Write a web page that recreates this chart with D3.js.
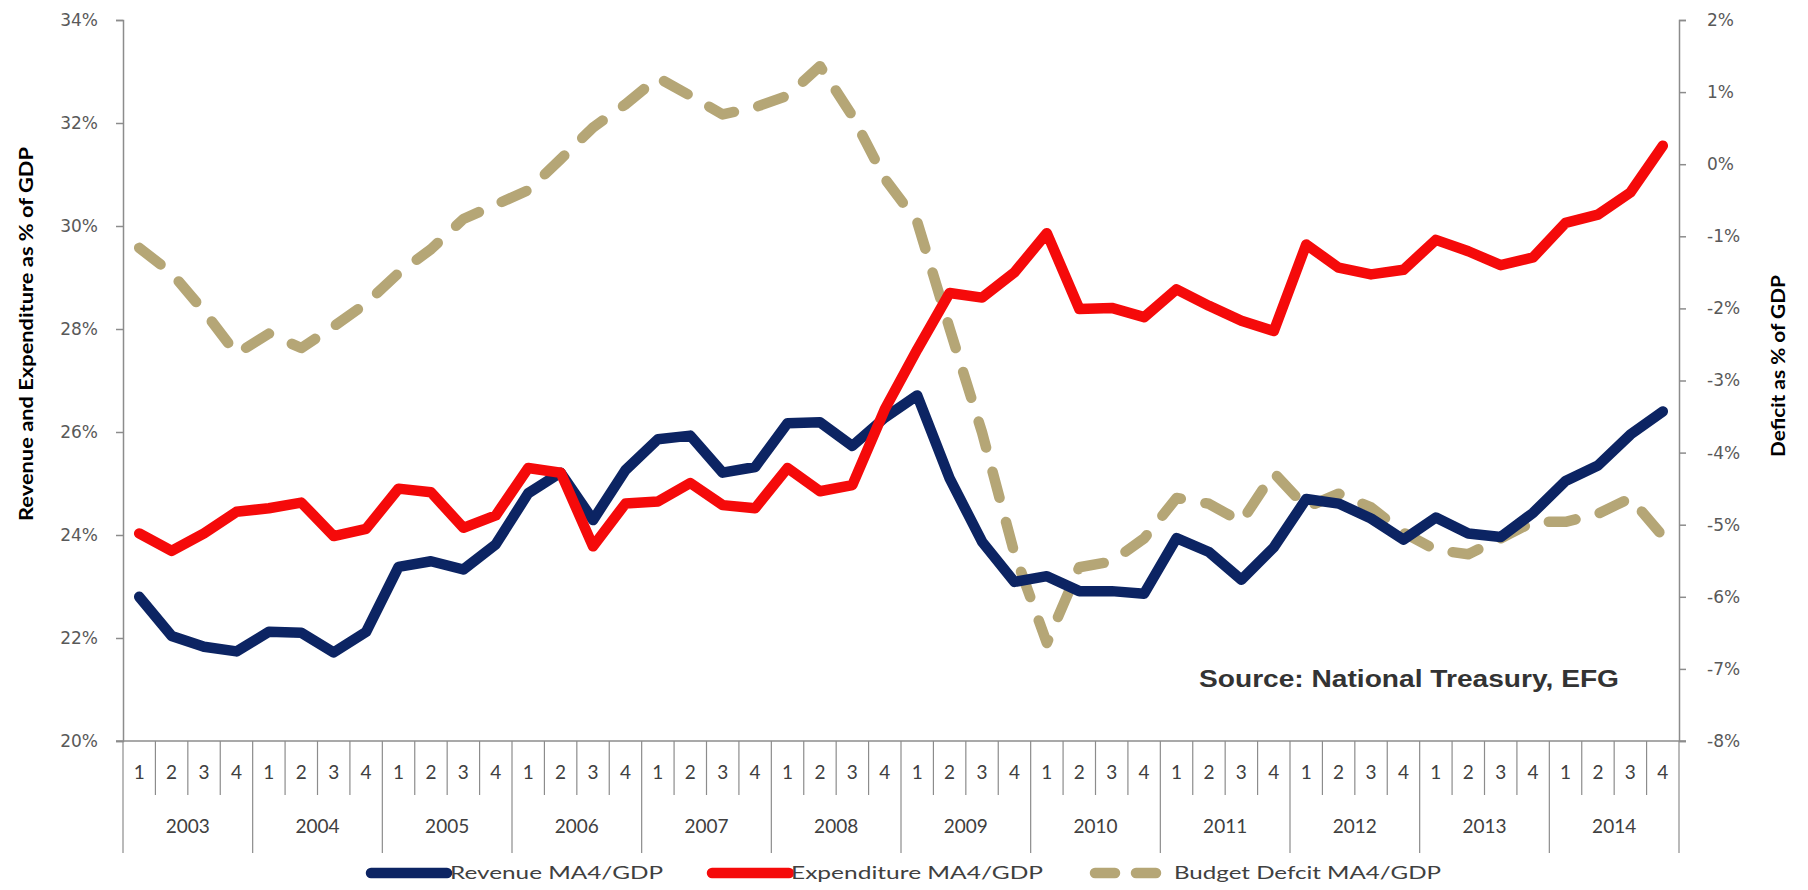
<!DOCTYPE html>
<html><head><meta charset="utf-8">
<script src="https://cdn.jsdelivr.net/npm/d3@7/dist/d3.min.js"></script>
<style>body{margin:0;background:#fff}svg{display:block}</style>
</head><body><svg id="c" width="1808" height="890"></svg>
<script>
const years = ["2003","2004","2005","2006","2007","2008","2009","2010","2011","2012","2013","2014"];
const quarters = ["1","2","3","4"];
const leftTicks = [20,22,24,26,28,30,32,34];
const rightTicks = [-8,-7,-6,-5,-4,-3,-2,-1,0,1,2];
const seriesNames = ["Revenue MA4/GDP","Expenditure MA4/GDP","Budget Defcit MA4/GDP"];
const leftTitle = "Revenue and Expenditure as % of GDP";
const rightTitle = "Deficit as % of GDP";
const sourceNote = "Source: National Treasury, EFG";

const revenue = [22.80,22.04,21.83,21.74, 22.12,22.10,21.72,22.12, 23.38,23.49,23.33,23.82,
  24.81,25.21,24.29,25.26, 25.86,25.93,25.21,25.32, 26.17,26.19,25.73,26.28,
  26.71,25.10,23.87,23.09, 23.20,22.91,22.91,22.86, 23.94,23.67,23.13,23.76,
  24.70,24.61,24.32,23.91, 24.34,24.03,23.96,24.43, 25.05,25.35,25.95,26.40];
const expenditure = [24.03,23.69,24.03,24.45, 24.52,24.63,23.98,24.12, 24.90,24.83,24.14,24.38,
  25.30,25.21,23.78,24.61, 24.65,25.01,24.58,24.52, 25.30,24.85,24.97,26.44,
  27.60,28.70,28.61,29.10, 29.86,28.39,28.41,28.23, 28.77,28.45,28.16,27.96,
  29.64,29.19,29.06,29.15, 29.73,29.51,29.24,29.39, 30.06,30.22,30.65,31.56];
const deficit = [-1.16,-1.51,-2.04,-2.63, -2.35,-2.55,-2.25,-1.93, -1.51,-1.18,-0.76,-0.56,
  -0.36,0.07,0.51,0.83, 1.20,0.95,0.69,0.79, 0.95,1.36,0.67,-0.20,
  -0.80,-2.28,-3.72,-5.40, -6.64,-5.59,-5.51,-5.19, -4.63,-4.71,-4.96,-4.28,
  -4.76,-4.57,-4.76,-5.11, -5.35,-5.41,-5.19,-4.96, -4.96,-4.85,-4.63,-5.16];

const colors = ["#0c2463","#f50a0a","#b5a676"];
const categories = years.flatMap(y => quarters.map(q => y + "Q" + q));

const L = 123, R = 1679, T = 20, B = 741;
const svg = d3.select("#c");
const x = d3.scaleBand().domain(categories).range([L, R]).padding(0);
const yL = d3.scaleLinear().domain([20, 34]).range([B, T]);
const yR = d3.scaleLinear().domain([-8, 2]).range([B, T]);
const axisColor = "#8c8c8c";
const calibri = "Lato, 'Open Sans', sans-serif";

// Left axis
const gl = svg.append("g").attr("transform", `translate(${L},0)`)
  .call(d3.axisLeft(yL).tickValues(leftTicks).tickFormat(d => d + "%").tickSize(7).tickPadding(18));
// Right axis
const gr = svg.append("g").attr("transform", `translate(${R},0)`)
  .call(d3.axisRight(yR).tickValues(rightTicks).tickFormat(d => d + "%").tickSize(7).tickPadding(21));
[gl, gr].forEach(g => {
  g.select(".domain").attr("stroke", axisColor).attr("stroke-width", 1.5);
  g.selectAll(".tick line").attr("stroke", axisColor).attr("stroke-width", 1.5);
  g.selectAll(".tick text").attr("fill", "#595959").style("font-family", "'DejaVu Sans', Verdana, sans-serif").style("font-size", "17px");
});

// Bottom category axis
const bx = svg.append("g");
bx.append("line").attr("x1", L - 7).attr("x2", R + 7).attr("y1", B).attr("y2", B)
  .attr("stroke", axisColor).attr("stroke-width", 1.5);
const bounds = categories.map(c => x(c)).concat([x(categories[categories.length - 1]) + x.bandwidth()]);
bx.selectAll("line.sep").data(bounds).join("line").attr("class", "sep")
  .attr("x1", d => d).attr("x2", d => d).attr("y1", B)
  .attr("y2", (d, i) => i % 4 === 0 ? 853 : 795)
  .attr("stroke", axisColor).attr("stroke-width", 1.2);
bx.selectAll("text.q").data(categories).join("text").attr("class", "q")
  .attr("x", d => x(d) + x.bandwidth() / 2).attr("y", 772).attr("dy", "0.35em")
  .attr("text-anchor", "middle").attr("fill", "#404040")
  .style("font-family", calibri).style("font-size", "19px")
  .text(d => d.slice(-1));
bx.selectAll("text.yr").data(years).join("text").attr("class", "yr")
  .attr("x", d => x(d + "Q1") + 2 * x.bandwidth()).attr("y", 826).attr("dy", "0.35em")
  .attr("text-anchor", "middle").attr("fill", "#404040")
  .style("font-family", calibri).style("font-size", "19px")
  .text(d => d);

// Lines
const lineL = d3.line().x((d, i) => x(categories[i]) + x.bandwidth() / 2).y(d => yL(d)).curve(d3.curveLinear);
const lineR = d3.line().x((d, i) => x(categories[i]) + x.bandwidth() / 2).y(d => yR(d)).curve(d3.curveLinear);
svg.append("path").datum(deficit).attr("d", lineR).attr("fill", "none")
  .attr("stroke", colors[2]).attr("stroke-width", 10.5).attr("stroke-linecap", "round").attr("stroke-linejoin", "round")
  .attr("stroke-dasharray", "27 25");
svg.append("path").datum(revenue).attr("d", lineL).attr("fill", "none")
  .attr("stroke", colors[0]).attr("stroke-width", 10.5).attr("stroke-linecap", "round").attr("stroke-linejoin", "round");
svg.append("path").datum(expenditure).attr("d", lineL).attr("fill", "none")
  .attr("stroke", colors[1]).attr("stroke-width", 10.5).attr("stroke-linecap", "round").attr("stroke-linejoin", "round");

// Axis titles
svg.append("text").attr("transform", `translate(26,334) rotate(-90)`).attr("text-anchor", "middle")
  .attr("dy", "0.35em").attr("textLength", 374).attr("lengthAdjust", "spacingAndGlyphs")
  .style("font-family", calibri).style("font-weight", "bold").style("font-size", "19px").attr("fill", "#000")
  .text(leftTitle);
svg.append("text").attr("transform", `translate(1778,366) rotate(-90)`).attr("text-anchor", "middle")
  .attr("dy", "0.35em").attr("textLength", 182).attr("lengthAdjust", "spacingAndGlyphs")
  .style("font-family", calibri).style("font-weight", "bold").style("font-size", "19px").attr("fill", "#000")
  .text(rightTitle);

// Source
svg.append("text").attr("x", 1199).attr("y", 687).attr("textLength", 420).attr("lengthAdjust", "spacingAndGlyphs")
  .style("font-family", "'Liberation Sans', Arial, sans-serif").style("font-weight", "bold").style("font-size", "23px")
  .attr("fill", "#333").text(sourceNote);

// Legend
const legY = 873;
const leg = [
  {sx: 371, ex: 447, tx: 450, tl: 213},
  {sx: 712, ex: 789, tx: 791, tl: 252},
  {sx: 1095, ex: 1167, tx: 1174, tl: 267}
];
const lg = svg.append("g");
lg.selectAll("line").data(seriesNames).join("line")
  .attr("x1", (d, i) => leg[i].sx).attr("x2", (d, i) => leg[i].ex)
  .attr("y1", legY).attr("y2", legY)
  .attr("stroke", (d, i) => colors[i]).attr("stroke-width", 10.5).attr("stroke-linecap", "round")
  .attr("stroke-dasharray", (d, i) => i === 2 ? "20 21" : null);
lg.selectAll("text").data(seriesNames).join("text")
  .attr("x", (d, i) => leg[i].tx).attr("y", legY).attr("dy", "0.35em")
  .attr("textLength", (d, i) => leg[i].tl).attr("lengthAdjust", "spacingAndGlyphs")
  .style("font-family", calibri).style("font-size", "18px").attr("fill", "#404040")
  .text(d => d);
</script></body></html>
